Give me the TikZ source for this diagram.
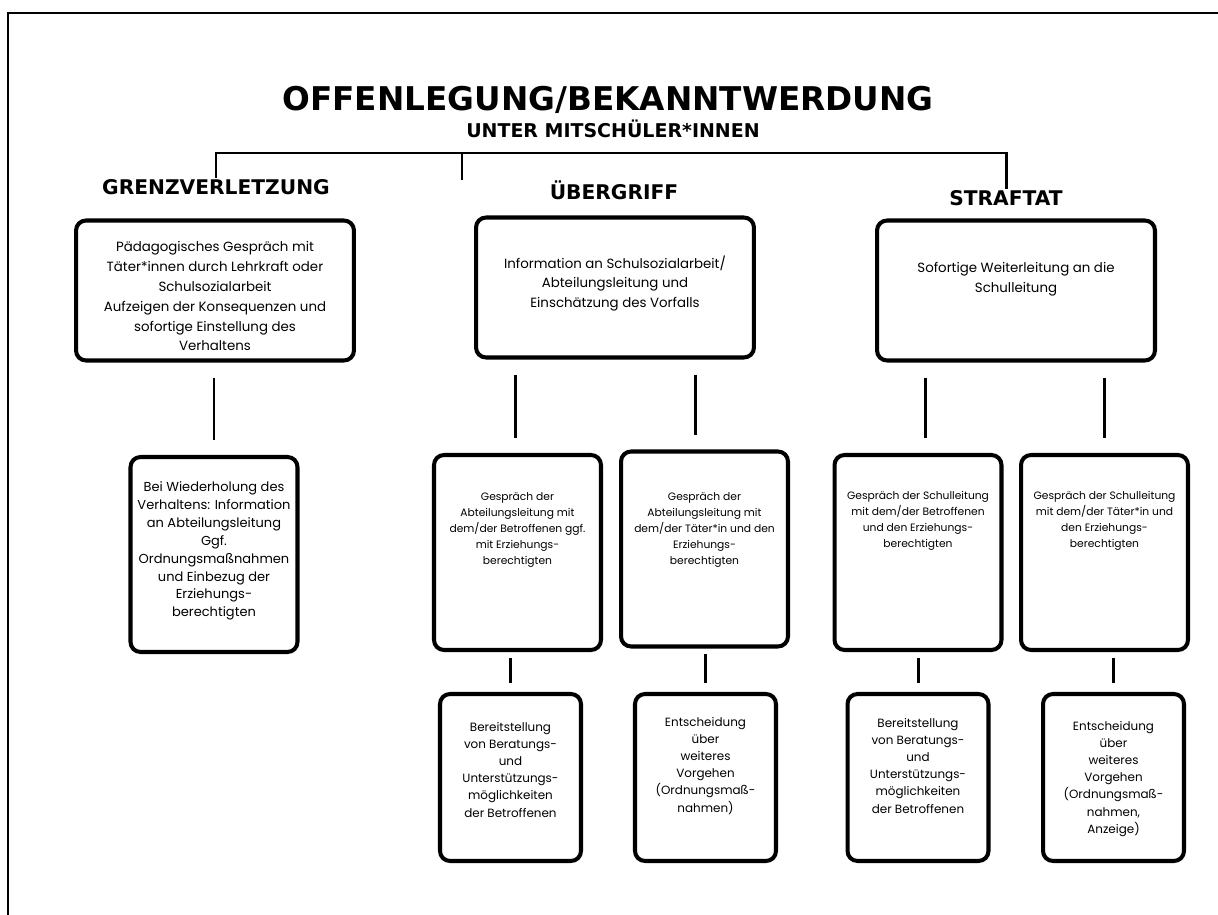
\documentclass[tikz,border=0pt]{standalone}
\usepackage{fontspec}
\setmainfont{Poppins}
\newfontfamily\headfont{DejaVu Sans}
\usetikzlibrary{calc}

% Textblock oben ausgerichtet: Hoehe, Breite, Abstand oben, Text
\newcommand{\boxtext}[4]{\parbox[c][#1][t]{#2}{\centering\vspace*{#3}#4\par}}
\newcommand{\bigtext}[2]{\boxtext{2.8cm}{5.56cm}{#1}{#2}}
\newcommand{\talltext}[2]{\boxtext{3.9cm}{3.34cm}{#1}{#2}}
\newcommand{\lowtext}[2]{\boxtext{3.34cm}{2.82cm}{#1}{#2}}

\tikzset{
	frame/.style={line width=1.1pt},
	card/.style={draw, line width=2.3pt, rounded corners=0.2cm, inner sep=0pt},
	bigcard/.style={card, font=\fontsize{7.6}{11.3}\selectfont},
	repcard/.style={card, font=\fontsize{7.4}{10.2}\selectfont},
	tallcard/.style={card, font=\fontsize{6.1}{9.1}\selectfont},
	lowcard/.style={card, font=\fontsize{6.8}{9.8}\selectfont},
	link/.style={line width=1.7pt},
	heading/.style={anchor=base, inner sep=1pt, font=\headfont\bfseries\fontsize{11.5}{13}\selectfont},
}

\begin{document}
\begin{tikzpicture}[x=0.02cm,y=-0.02cm] % 1 Einheit = 1 Pixel
\useasboundingbox (0,0) rectangle (1218,915);
\draw[frame] (8,915) -- (8,13) -- (1218,13);

% Titel
\node[anchor=base, font=\headfont\bfseries\fontsize{18.6}{20}\selectfont] (title) at (608,111) {OFFENLEGUNG/BEKANNTWERDUNG};
\node[anchor=base, font=\headfont\bfseries\fontsize{10.8}{12}\selectfont] (subtitle) at (613,138) {UNTER MITSCHÜLER*INNEN};

% Stufen
\node[heading] (grenz) at (216,195) {GRENZVERLETZUNG};
\node[heading] (ueber) at (614,200) {ÜBERGRIFF};
\node[heading] (straf) at (1006,206) {STRAFTAT};

\coordinate (bar) at (0,153);
\coordinate (midstub) at (462,180);
\draw[link] (grenz.north) -- (grenz.north |- bar) -- (straf.north |- bar) -- (straf.north);
\draw[link] (midstub |- bar) -- (midstub);

% obere Kaesten
\node[bigcard] (b1) at (215,290.5) {\bigtext{0.42cm}{%
	Pädagogisches Gespräch mit\\
	Täter*innen durch Lehrkraft oder\\
	Schulsozialarbeit\\
	Aufzeigen der Konsequenzen und\\
	sofortige Einstellung des\\
	Verhaltens}};
\node[bigcard] (b2) at (615,287.5) {\bigtext{0.76cm}{%
	Information an Schulsozialarbeit/\\
	Abteilungsleitung und\\
	Einschätzung des Vorfalls}};
\node[bigcard] (b3) at (1016,290.5) {\bigtext{0.83cm}{%
	Sofortige Weiterleitung an die\\
	Schulleitung}};

% mittlere Kaesten
\node[repcard] (b4) at (214,554.5) {\talltext{0.49cm}{%
	Bei Wiederholung des\\
	Verhaltens: Information\\
	an Abteilungsleitung\\
	Ggf.\\
	Ordnungsmaßnahmen\\
	und Einbezug der\\
	Erziehungs-\\
	berechtigten}};
\node[tallcard] (b5) at (517.5,552.5) {\talltext{0.76cm}{%
	Gespräch der\\
	Abteilungsleitung mit\\
	dem/der Betroffenen ggf.\\
	mit Erziehungs-\\
	berechtigten}};
\node[tallcard] (b6) at (704.5,549) {\talltext{0.82cm}{%
	Gespräch der\\
	Abteilungsleitung mit\\
	dem/der Täter*in und den\\
	Erziehungs-\\
	berechtigten}};
\node[tallcard] (b9) at (918,552.5) {\talltext{0.72cm}{%
	Gespräch der Schulleitung\\
	mit dem/der Betroffenen\\
	und den Erziehungs-\\
	berechtigten}};
\node[tallcard] (b10) at (1104.5,552.5) {\talltext{0.72cm}{%
	Gespräch der Schulleitung\\
	mit dem/der Täter*in und\\
	den Erziehungs-\\
	berechtigten}};

% untere Kaesten
\node[lowcard] (b7) at (510.5,777.5) {\lowtext{0.56cm}{%
	Bereitstellung\\
	von Beratungs-\\
	und\\
	Unterstützungs-\\
	möglichkeiten\\
	der Betroffenen}};
\node[lowcard] (b8) at (705.5,777.5) {\lowtext{0.46cm}{%
	Entscheidung\\
	über\\
	weiteres\\
	Vorgehen\\
	(Ordnungsmaß-\\
	nahmen)}};
\node[lowcard] (b11) at (918,777.5) {\lowtext{0.48cm}{%
	Bereitstellung\\
	von Beratungs-\\
	und\\
	Unterstützungs-\\
	möglichkeiten\\
	der Betroffenen}};
\node[lowcard] (b12) at (1113.5,777.5) {\lowtext{0.54cm}{%
	Entscheidung\\
	über\\
	weiteres\\
	Vorgehen\\
	(Ordnungsmaß-\\
	nahmen,\\
	Anzeige)}};

% Verbindungen
\foreach \up/\down/\dx in {b1/b4/0, b2/b5/-2, b2/b6/-9, b3/b9/7, b3/b10/0}
	\draw[link, shorten <=0.3cm, shorten >=0.3cm] ($(\down.north |- \up.south)+(\dx,0)$) -- ($(\down.north)+(\dx,0)$);
\foreach \up/\down in {b5/b7, b6/b8, b9/b11, b10/b12}
	\draw[link, shorten <=0.12cm, shorten >=0.18cm] (\down.north |- \up.south) -- (\down.north);
\end{tikzpicture}
\end{document}
